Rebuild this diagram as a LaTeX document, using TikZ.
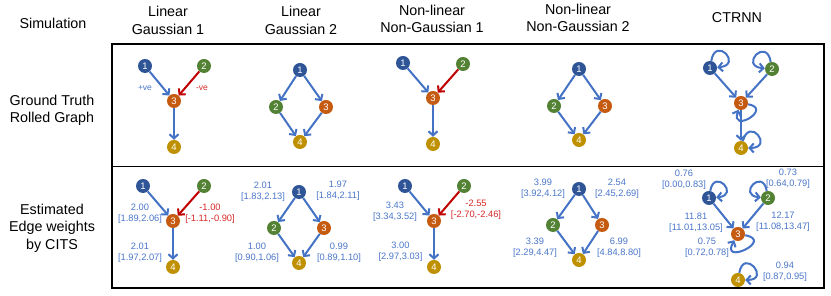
\documentclass[tikz,border=0pt]{standalone}
\usepackage{fontspec}
\setmainfont{Liberation Sans}
\usetikzlibrary{arrows.meta}
\definecolor{cA}{HTML}{2F5597}
\definecolor{cB}{HTML}{548235}
\definecolor{cC}{HTML}{C55A11}
\definecolor{cD}{HTML}{BF9000}
\definecolor{eb}{HTML}{4472C4}
\definecolor{er}{HTML}{C00000}
\definecolor{lb}{HTML}{4A76C8}
\definecolor{lr}{HTML}{D62828}
\tikzset{
  nd/.style={circle, inner sep=0pt, minimum size=14pt, text=white, font=\fontsize{9.5}{10}\selectfont},
  nA/.style={nd, fill=cA}, nB/.style={nd, fill=cB}, nC/.style={nd, fill=cC}, nD/.style={nd, fill=cD},
  arr/.style={draw=eb, line width=2pt, -{Straight Barb[length=4.2pt,width=9pt]}},
  rarr/.style={arr, draw=er},
  lbl/.style={align=center, text=lb, font=\fontsize{9.3}{11}\selectfont, inner sep=0pt},
  rlbl/.style={lbl, text=lr},
  hdr/.style={align=center, font=\fontsize{14.3}{17.5}\selectfont, inner sep=0pt},
  frame/.style={draw=black, line width=1.3pt}
}
\begin{document}
\begin{tikzpicture}[x=1pt,y=1pt]
\useasboundingbox (0,0) rectangle (831,296);
% frame
\draw[frame] (112,252) rectangle (824,8);
\draw[frame] (112,129.5) -- (824,129.5);
% headers
\node[hdr] (hsim) at (53,273) {Simulation};
\node[hdr] (h1) at (168,275.5) {Linear\\Gaussian 1};
\node[hdr] (h2) at (301,275.5) {Linear\\Gaussian 2};
\node[hdr] (h3) at (432,277) {Non-linear\\Non-Gaussian 1};
\node[hdr] (h4) at (578,278) {Non-linear\\Non-Gaussian 2};
\node[hdr] (h5) at (737,278) {CTRNN};
\node[hdr] (r1) at (52,185.5) {Ground Truth\\Rolled Graph};
\node[hdr] (r2) at (52,68) {Estimated\\Edge weights\\by CITS};

% ===== Linear Gaussian 1 top
\node[nA] (at1) at (145,230) {1};
\node[nB] (at2) at (204,230) {2};
\node[nC] (at3) at (174,195) {3};
\node[nD] (at4) at (174,149) {4};
\draw[arr] (at1) -- (at3);
\draw[rarr] (at2) -- (at3);
\draw[arr] (at3) -- (at4);
\node[lbl, font=\fontsize{8.5}{10}\selectfont] (pve) at (145,208) {+ve};
\node[rlbl, font=\fontsize{8.5}{10}\selectfont] (nve) at (202,208) {-ve};

% ===== Linear Gaussian 1 bottom
\node[nA] (ab1) at (143,110) {1};
\node[nB] (ab2) at (204,110) {2};
\node[nC] (ab3) at (173,75) {3};
\node[nD] (ab4) at (173,29) {4};
\draw[arr] (ab1) -- (ab3);
\draw[rarr] (ab2) -- (ab3);
\draw[arr] (ab3) -- (ab4);
\node[lbl] (la1) at (140,82.5) {2.00\\{[}1.89,2.06{]}};
\node[rlbl] (la2) at (210,82.5) {-1.00\\{[}-1.11,-0.90{]}};
\node[lbl] (la3) at (140,43.5) {2.01\\{[}1.97,2.07{]}};

% ===== Linear Gaussian 2 top
\node[nA] (bt1) at (300,226) {1};
\node[nB] (bt2) at (276,189) {2};
\node[nC] (bt3) at (326,189) {3};
\node[nD] (bt4) at (300,154) {4};
\draw[arr] (bt1) -- (bt2);
\draw[arr] (bt1) -- (bt3);
\draw[arr] (bt2) -- (bt4);
\draw[arr] (bt3) -- (bt4);

% ===== Linear Gaussian 2 bottom
\node[nA] (bb1) at (299,104) {1};
\node[nB] (bb2) at (274,68) {2};
\node[nC] (bb3) at (324,68) {3};
\node[nD] (bb4) at (299,33) {4};
\draw[arr] (bb1) -- (bb2);
\draw[arr] (bb1) -- (bb3);
\draw[arr] (bb2) -- (bb4);
\draw[arr] (bb3) -- (bb4);
\node[lbl] (lb1) at (263,104.5) {2.01\\{[}1.83,2.13{]}};
\node[lbl] (lb2) at (338,105) {1.97\\{[}1.84,2.11{]}};
\node[lbl] (lb3) at (257,43) {1.00\\{[}0.90,1.06{]}};
\node[lbl] (lb4) at (339,43) {0.99\\{[}0.89,1.10{]}};

% ===== Non-linear Non-Gaussian 1 top
\node[nA] (ct1) at (403,233) {1};
\node[nB] (ct2) at (463,232) {2};
\node[nC] (ct3) at (433,198) {3};
\node[nD] (ct4) at (433,152) {4};
\draw[arr] (ct1) -- (ct3);
\draw[rarr] (ct2) -- (ct3);
\draw[arr] (ct3) -- (ct4);

% ===== Non-linear Non-Gaussian 1 bottom
\node[nA] (cb1) at (405,110) {1};
\node[nB] (cb2) at (464,110) {2};
\node[nC] (cb3) at (434,75) {3};
\node[nD] (cb4) at (434,29) {4};
\draw[arr] (cb1) -- (cb3);
\draw[rarr] (cb2) -- (cb3);
\draw[arr] (cb3) -- (cb4);
\node[lbl] (lc1) at (395,84) {3.43\\{[}3.34,3.52{]}};
\node[rlbl] (lc2) at (476,86) {-2.55\\{[}-2.70,-2.46{]}};
\node[lbl] (lc3) at (400.5,44) {3.00\\{[}2.97,3.03{]}};

% ===== Non-linear Non-Gaussian 2 top
\node[nA] (dt1) at (579,227) {1};
\node[nB] (dt2) at (554,190) {2};
\node[nC] (dt3) at (605,190) {3};
\node[nD] (dt4) at (579,156) {4};
\draw[arr] (dt1) -- (dt2);
\draw[arr] (dt1) -- (dt3);
\draw[arr] (dt2) -- (dt4);
\draw[arr] (dt3) -- (dt4);

% ===== Non-linear Non-Gaussian 2 bottom
\node[nA] (db1) at (579,107) {1};
\node[nB] (db2) at (553,71) {2};
\node[nC] (db3) at (602,71) {3};
\node[nD] (db4) at (579,36) {4};
\draw[arr] (db1) -- (db2);
\draw[arr] (db1) -- (db3);
\draw[arr] (db2) -- (db4);
\draw[arr] (db3) -- (db4);
\node[lbl] (ld1) at (543,107.5) {3.99\\{[}3.92,4.12{]}};
\node[lbl] (ld2) at (617,107.5) {2.54\\{[}2.45,2.69{]}};
\node[lbl] (ld3) at (535,48) {3.39\\{[}2.29,4.47{]}};
\node[lbl] (ld4) at (619,48) {6.99\\{[}4.84,8.80{]}};

% ===== CTRNN top
\node[nA] (et1) at (710,228) {1};
\node[nB] (et2) at (772,227) {2};
\node[nC] (et3) at (741,193) {3};
\node[nD] (et4) at (741,148) {4};
\draw[arr] (et1) -- (et3);
\draw[arr] (et2) -- (et3);
\draw[arr] (et3) -- (et4);
\draw[arr] (et1) to[out=80,in=5,min distance=26pt] (et1);
\draw[arr] (et2) to[out=100,in=175,min distance=26pt] (et2);
\draw[arr] (et3) to[out=-10,in=-110,min distance=26pt] (et3);
\draw[arr] (et4) to[out=75,in=0,min distance=26pt] (et4);

% ===== CTRNN bottom
\node[nA] (eb1) at (709,98) {1};
\node[nB] (eb2) at (768,98) {2};
\node[nC] (eb3) at (738,62) {3};
\node[nD] (eb4) at (738,16) {4};
\draw[arr] (eb1) -- (eb3);
\draw[arr] (eb2) -- (eb3);
\draw[arr] (eb1) to[out=80,in=5,min distance=24pt] (eb1);
\draw[arr] (eb2) to[out=100,in=175,min distance=24pt] (eb2);
\draw[arr] (eb3) to[out=-10,in=-120,min distance=30pt] (eb3);
\draw[arr] (eb4) to[out=80,in=0,min distance=26pt] (eb4);
\node[lbl] (le1) at (684,116.5) {0.76\\{[}0.00,0.83{]}};
\node[lbl] (le2) at (788,117.5) {0.73\\{[}0.64,0.79{]}};
\node[lbl] (le3) at (696,73.5) {11.81\\{[}11.01,13.05{]}};
\node[lbl] (le4) at (783,74.5) {12.17\\{[}11.08,13.47{]}};
\node[lbl] (le5) at (707,48.5) {0.75\\{[}0.72,0.78{]}};
\node[lbl] (le6) at (785,24.5) {0.94\\{[}0.87,0.95{]}};
\end{tikzpicture}
\end{document}
